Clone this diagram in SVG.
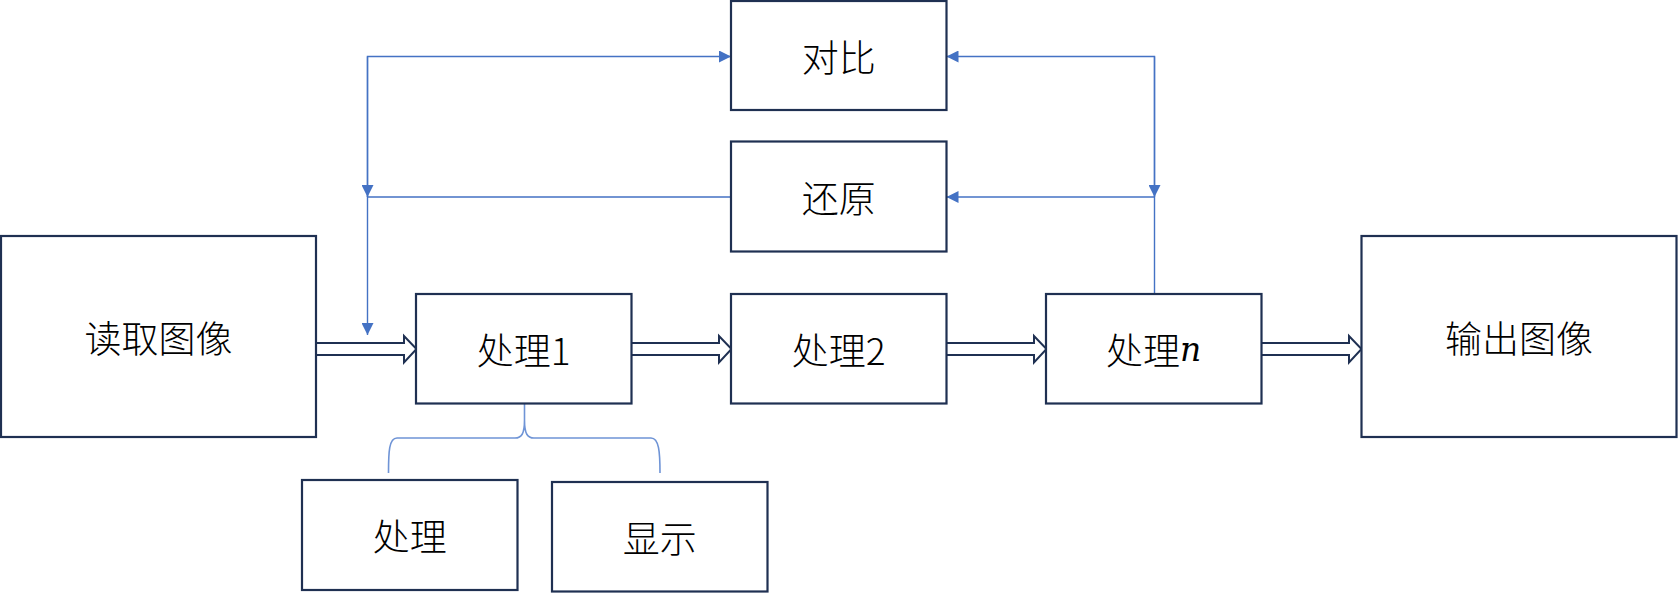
<svg xmlns="http://www.w3.org/2000/svg" width="1678" height="593" viewBox="0 0 1678 593">
<style>
.box{fill:#fff;stroke:#1f3052;stroke-width:2.2}
.lbl{font-family:"Noto Sans CJK SC","Noto Sans",sans-serif;font-size:37px;font-weight:300;fill:#000;text-anchor:middle;dominant-baseline:central}
.math{font-family:"DejaVu Serif",serif;font-style:italic;font-size:33px;font-weight:normal}
.blk{fill:#fff;stroke:#1f3052;stroke-width:2;stroke-linejoin:miter}
.fb{fill:none;stroke:#4472c4;stroke-width:1.4}
.br{fill:none;stroke:#6f94d6;stroke-width:1.6}
</style>
<defs>
<marker id="ah" viewBox="0 0 12 12" refX="12" refY="6" markerWidth="12" markerHeight="12" markerUnits="userSpaceOnUse" orient="auto">
<path d="M0,0 L12,6 L0,12 Z" fill="#4472c4"/>
</marker>
</defs>
<g id="connectors">
<path class="blk" d="M316,343 H404 V336 L416.5,349 L404,362.5 V355 H316"/>
<path class="blk" d="M631.5,343 H719 V336 L731.5,349 L719,362.5 V355 H631.5"/>
<path class="blk" d="M946.5,343 H1034 V336 L1046.5,349 L1034,362.5 V355 H946.5"/>
<path class="blk" d="M1261.5,343 H1349 V336 L1361.5,349 L1349,362.5 V355 H1261.5"/>
<path class="fb" d="M367.5,197 V56.5 H731" marker-end="url(#ah)"/>
<path class="fb" d="M367.5,56.5 V197" marker-end="url(#ah)"/>
<path class="fb" d="M731,197 H367.5 V335" marker-end="url(#ah)"/>
<path class="fb" d="M1154.5,294 V56.5 H946.5" marker-end="url(#ah)"/>
<path class="fb" d="M1154.5,56.5 V197" marker-end="url(#ah)"/>
<path class="fb" d="M1154.5,197 H946.5" marker-end="url(#ah)"/>
<path class="br" d="M388.5,473 C388.5,452 389,438 397,438 L515,438 C521.5,438 524.5,434 524.5,420 V404 M524.5,420 C524.5,434 527.5,438 534,438 L651,438 C659,438 660,452 660,473"/>
</g>
<g id="read"><rect class="box" x="1" y="236" width="315" height="201"/><text class="lbl" x="158.5" y="337">读取图像</text></g>
<g id="compare"><rect class="box" x="731" y="1" width="215.5" height="109"/><text class="lbl" x="838.7" y="56">对比</text></g>
<g id="restore"><rect class="box" x="731" y="141.5" width="215.5" height="110"/><text class="lbl" x="838.7" y="197">还原</text></g>
<g id="proc1"><rect class="box" x="416" y="294" width="215.5" height="109.5"/><text class="lbl" x="523.7" y="349">处理1</text></g>
<g id="proc2"><rect class="box" x="731" y="294" width="215.5" height="109.5"/><text class="lbl" x="838.7" y="349">处理2</text></g>
<g id="procn"><rect class="box" x="1046" y="294" width="215.5" height="109.5"/><text class="lbl" x="1153.7" y="349">处理<tspan class="math">n</tspan></text></g>
<g id="output"><rect class="box" x="1361.5" y="236" width="315" height="201"/><text class="lbl" x="1519" y="337">输出图像</text></g>
<g id="sub-proc"><rect class="box" x="302" y="480" width="215.5" height="110"/><text class="lbl" x="409.7" y="535">处理</text></g>
<g id="sub-show"><rect class="box" x="552" y="482" width="215.5" height="109.5"/><text class="lbl" x="659.7" y="537">显示</text></g>
</svg>
